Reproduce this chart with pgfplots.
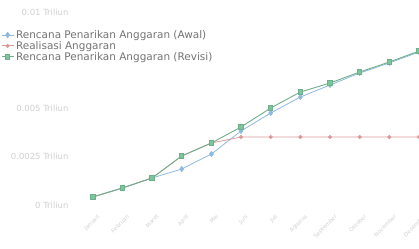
\documentclass[border=0pt]{standalone}
\usepackage{pgfplots}
\pgfplotsset{compat=1.18}
\usepackage{fontspec}
\setmainfont{DejaVu Sans}
\definecolor{cblue}{HTML}{8DB8E0}
\definecolor{cred}{HTML}{D99A9A}
\definecolor{cgreen}{HTML}{6FAE8A}
\definecolor{cgreenm}{HTML}{7CC49A}
\definecolor{lbl}{HTML}{CFCFCF}
\begin{document}
\begin{tikzpicture}
\begin{axis}[
  scale only axis,
  width=347bp, height=193bp,
  xmin=-0.7, xmax=11,
  ymin=0, ymax=4,
  axis line style={draw=none},
  clip=false,
  xtick={0,...,11},
  xticklabels={Januari,Februari,Maret,April,Mei,Juni,Juli,Agustus,September,Oktober,November,Desember},
  x tick label style={rotate=45, anchor=north east, font=\fontsize{5.5}{6}\selectfont, text=lbl, yshift=-6bp},
  ytick={0,1,2,4},
  yticklabels={0 Triliun,0.0025 Triliun,0.005 Triliun,0.01 Triliun},
  y tick label style={font=\fontsize{8.5}{9}\selectfont, text=lbl},
  major tick length=0pt,
  legend style={at={(axis description cs:0,1)}, xshift=-72bp, yshift=-15bp, anchor=north west, draw=none, fill=white, font=\fontsize{10.5}{11}\selectfont, text=black!55, row sep=-2.5pt, inner sep=1pt},
  legend cell align=left,
  legend image code/.code={\draw[#1] (0bp,0bp) -- (12bp,0bp); \path[#1, mark repeat=1] plot coordinates {(6bp,0bp)};},
]
\addplot[cblue, line width=0.8pt, mark=diamond*, mark size=2.5pt] coordinates {
(0,0.166) (1,0.352) (2,0.56) (3,0.746) (4,1.057) (5,1.534) (6,1.907) (7,2.238) (8,2.487) (9,2.736) (10,2.943) (11,3.171)};
\addlegendentry{Rencana Penarikan Anggaran (Awal)}
\addplot[cred, line width=0.8pt, mark=*, mark size=1.6pt] coordinates {
(0,0.166) (1,0.352) (2,0.56) (3,1.016) (4,1.285) (5,1.409) (6,1.409) (7,1.409) (8,1.409) (9,1.409) (10,1.409) (11,1.409)};
\addlegendentry{Realisasi Anggaran}
\addplot[cgreen, line width=0.9pt, mark=square*, mark size=2.2pt, mark options={fill=cgreenm, draw=cgreen}] coordinates {
(0,0.166) (1,0.352) (2,0.56) (3,1.016) (4,1.285) (5,1.617) (6,2.01) (7,2.342) (8,2.528) (9,2.756) (10,2.964) (11,3.19)};
\addlegendentry{Rencana Penarikan Anggaran (Revisi)}
\end{axis}
\pgfresetboundingbox
\path[use as bounding box] (current axis.south west) ++(-72bp,-44bp) rectangle ++(419bp,249bp);
\end{tikzpicture}
\end{document}
